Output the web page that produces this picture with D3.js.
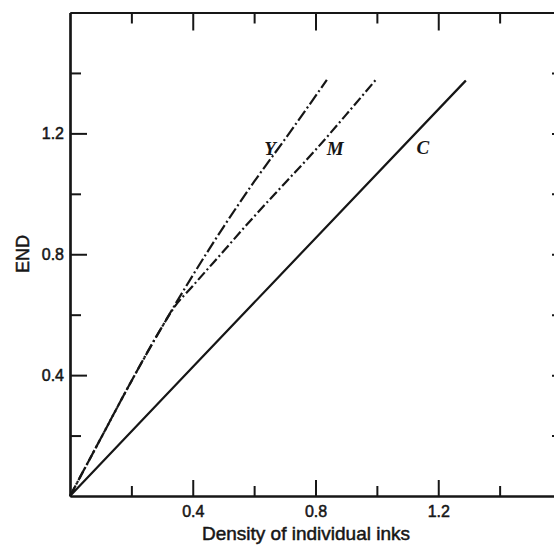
<!DOCTYPE html>
<html><head><meta charset="utf-8">
<script src="https://cdn.jsdelivr.net/npm/d3@7/dist/d3.min.js"></script>
<style>
html,body{margin:0;padding:0;background:#fff;overflow:hidden;}
svg{display:block;}
</style></head>
<body>
<svg id="chart" width="554" height="546"></svg>
<script>
// ---- data ----
const majorTicks = [0.4, 0.8, 1.2];
const minorTicks = [0.2, 0.6, 1.0, 1.4];
const allTicks = [0.2, 0.4, 0.6, 0.8, 1.0, 1.2, 1.4];
const tickLabels = ["0.4", "0.8", "1.2"];

const inkNames = ["Y", "M", "C"];
const yDensity = [0, 0.1, 0.2, 0.3, 0.4, 0.5, 0.6, 0.7, 0.837];
const yEND     = [0, 0.19, 0.38, 0.56, 0.73, 0.89, 1.04, 1.18, 1.377];
const mDensity = [0, 0.1, 0.2, 0.3, 0.34, 0.4, 0.5, 0.6, 0.7, 0.8, 0.9, 0.998];
const mEND     = [0, 0.19, 0.38, 0.56, 0.625, 0.695, 0.81, 0.925, 1.035, 1.145, 1.262, 1.379];
const cDensity = [0, 0.4, 0.8, 1.29];
const cEND     = [0, 0.427, 0.853, 1.375];
const labelDensity = [0.652, 0.864, 1.15];
const labelEND = [1.15, 1.15, 1.155];

const xTitle = "Density of individual inks";
const yTitle = "END";

// ---- drawing ----
const svg = d3.select("#chart");
const x = d3.scaleLinear().domain([0, 1.6]).range([70, 561]);
const y = d3.scaleLinear().domain([0, 1.6]).range([496, 12.5]);
const ink = "#161616";
const font = "'Liberation Sans', Arial, sans-serif";

function styleAxis(g) {
  g.selectAll("path.domain").attr("stroke", ink).attr("stroke-width", 2.2);
  g.selectAll(".tick line").attr("stroke", ink).attr("stroke-width", 2);
  g.selectAll(".tick text").attr("fill", ink).attr("stroke", ink).attr("stroke-width", 0.5)
    .style("font-family", font).style("font-size", "16px");
}

// bottom axis
svg.append("g").attr("transform", `translate(0,${y(0)})`)
  .call(d3.axisBottom(x).tickValues(majorTicks).tickFormat((d, i) => tickLabels[i])
    .tickSize(-16).tickSizeOuter(0).tickPadding(10))
  .call(styleAxis);
svg.append("g").attr("transform", `translate(0,${y(0)})`)
  .call(d3.axisBottom(x).tickValues(minorTicks).tickFormat("").tickSize(-10).tickSizeOuter(0))
  .call(styleAxis);

// top axis
svg.append("g").attr("transform", `translate(0,${y(1.6)})`)
  .call(d3.axisTop(x).tickValues(majorTicks).tickFormat("").tickSize(-18).tickSizeOuter(0))
  .call(styleAxis);
svg.append("g").attr("transform", `translate(0,${y(1.6)})`)
  .call(d3.axisTop(x).tickValues(minorTicks).tickFormat("").tickSize(-11).tickSizeOuter(0))
  .call(styleAxis);

// left axis
svg.append("g").attr("transform", `translate(${x(0)},0)`)
  .call(d3.axisLeft(y).tickValues(majorTicks).tickFormat((d, i) => tickLabels[i])
    .tickSize(-17).tickSizeOuter(0).tickPadding(6))
  .call(styleAxis);
svg.append("g").attr("transform", `translate(${x(0)},0)`)
  .call(d3.axisLeft(y).tickValues(minorTicks).tickFormat("").tickSize(-11).tickSizeOuter(0))
  .call(styleAxis);

// right axis (mostly beyond the frame)
svg.append("g").attr("transform", `translate(${x(1.6)},0)`)
  .call(d3.axisRight(y).tickValues(allTicks).tickFormat("").tickSize(-9).tickSizeOuter(0))
  .call(styleAxis);

// axis titles
svg.append("text").attr("x", 306).attr("y", 540).attr("text-anchor", "middle")
  .attr("fill", ink).attr("stroke", ink).attr("stroke-width", 0.5)
  .style("font-family", font).style("font-size", "19px").text(xTitle);
svg.append("text").attr("transform", "translate(29,254) rotate(-90)").attr("text-anchor", "middle")
  .attr("fill", ink).attr("stroke", ink).attr("stroke-width", 0.5)
  .style("font-family", font).style("font-size", "18px").text(yTitle);

// curves
const line = d3.line().x(d => x(d[0])).y(d => y(d[1])).curve(d3.curveMonotoneX);
const series = [
  { xs: yDensity, ys: yEND, dash: "12,3,2,3" },
  { xs: mDensity, ys: mEND, dash: "10,3,2,3" },
  { xs: cDensity, ys: cEND, dash: null }
];
series.forEach(s => {
  svg.append("path")
    .datum(s.xs.map((v, i) => [v, s.ys[i]]))
    .attr("d", line)
    .attr("fill", "none")
    .attr("stroke", ink)
    .attr("stroke-width", 2.2)
    .attr("stroke-dasharray", s.dash);
});

// ink labels
inkNames.forEach((n, i) => {
  svg.append("text")
    .attr("x", x(labelDensity[i])).attr("y", y(labelEND[i]))
    .attr("text-anchor", "middle").attr("dy", "0.35em")
    .attr("fill", ink)
    .style("font-family", "'Liberation Serif', 'DejaVu Serif', serif")
    .style("font-style", "italic").style("font-weight", "bold").style("font-size", "19px")
    .text(n);
});
</script>
</body></html>
